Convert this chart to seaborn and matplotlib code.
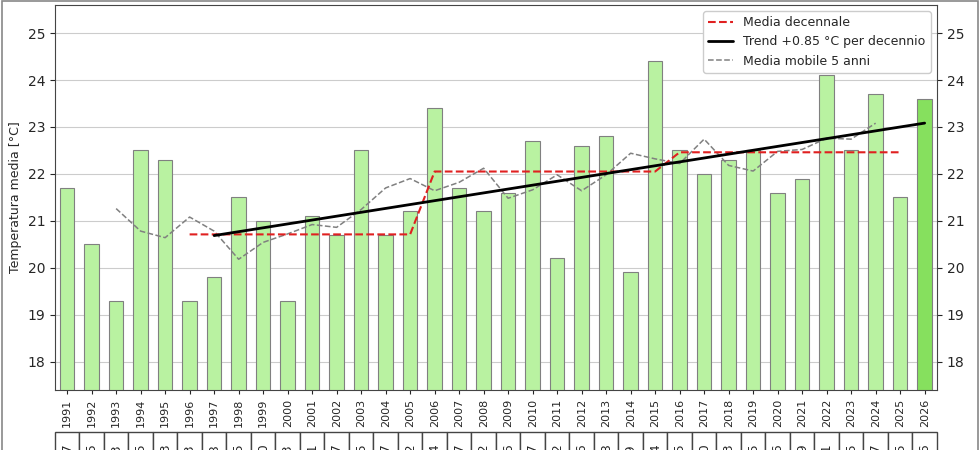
import numpy as np
import pandas as pd
import matplotlib
matplotlib.use("Agg")
import matplotlib.pyplot as plt
import seaborn as sns

years = list(range(1991, 2027))
temps = [21.7, 20.5, 19.3, 22.5, 22.3, 19.3, 19.8, 21.5, 21.0, 19.3,
         21.1, 20.7, 22.5, 20.7, 21.2, 23.4, 21.7, 21.2, 21.6, 22.7,
         20.2, 22.6, 22.8, 19.9, 24.4, 22.5, 22.0, 22.3, 22.5, 21.6,
         21.9, 24.1, 22.5, 23.7, 21.5, 23.6]
decades = [(1996, 2005), (2006, 2015), (2016, 2025)]
trend_start = 1997
trend_label = "Trend +0.85 °C per decennio"

df = pd.DataFrame({"anno": years, "temp": temps})
df["pos"] = np.arange(len(df))

sns.set_style("white")
fig = plt.figure(figsize=(9.8, 4.5), dpi=100)
ax = fig.add_axes([0.056, 0.134, 0.9, 0.855])

colors = ["#b9f2a1"] * (len(df) - 1) + ["#86e05e"]
sns.barplot(data=df, x="pos", y="temp", hue="pos", palette=colors, legend=False,
            saturation=1, edgecolor="gray", linewidth=0.8, width=0.6, ax=ax, zorder=2)

# media decennale
dec_x, dec_y = [], []
for a, b in decades:
    sel = df[(df.anno >= a) & (df.anno <= b)]
    dec_x += list(sel.pos)
    dec_y += [sel.temp.mean()] * len(sel)
ax.plot(dec_x, dec_y, "--", color="#e02020", lw=1.5, label="Media decennale", zorder=4)

# trend lineare
tr = df[df.anno >= trend_start]
k, q = np.polyfit(tr.anno, tr.temp, 1)
ax.plot(tr.pos, k * tr.anno + q, color="black", lw=2, label=trend_label, zorder=5)

# media mobile
mm = df.temp.rolling(5, center=True).mean()
ax.plot(df.pos, mm, "--", color="gray", lw=1.1, label="Media mobile 5 anni", zorder=3)

ax.set_ylim(17.4, 25.6)
ax.set_xlim(-0.5, len(df) - 0.5)
ax.set_yticks(range(18, 26))
ax.yaxis.grid(True, color="#cccccc", lw=0.8, zorder=0)
ax.set_axisbelow(True)
ax.tick_params(axis="y", labelright=True, right=True, left=True, labelsize=10)
ax.set_xticks(df.pos)
ax.set_xticklabels(years, rotation=90, fontsize=8)
ax.tick_params(axis="x", bottom=True, length=3)
ax.set_xlabel("")
ax.set_ylabel("Temperatura media [°C]", fontsize=9)
for s in ax.spines.values():
    s.set_color("#444444")
ax.legend(loc="upper right", fontsize=9, framealpha=1)

tab = ax.table(cellText=[[f"{t:.1f}" for t in temps]], cellLoc="center",
               bbox=[0, -0.24, 1, 0.13])
tab.auto_set_font_size(False)
for c in tab.get_celld().values():
    c.get_text().set_rotation(90)
    c.get_text().set_fontsize(9)
    c.set_edgecolor("#444444")

fig.patches.append(plt.Rectangle((0.002, -0.1), 0.996, 1.097, transform=fig.transFigure,
                                 fill=False, edgecolor="#888888", lw=1.2))
fig.savefig("out.png", dpi=100)
